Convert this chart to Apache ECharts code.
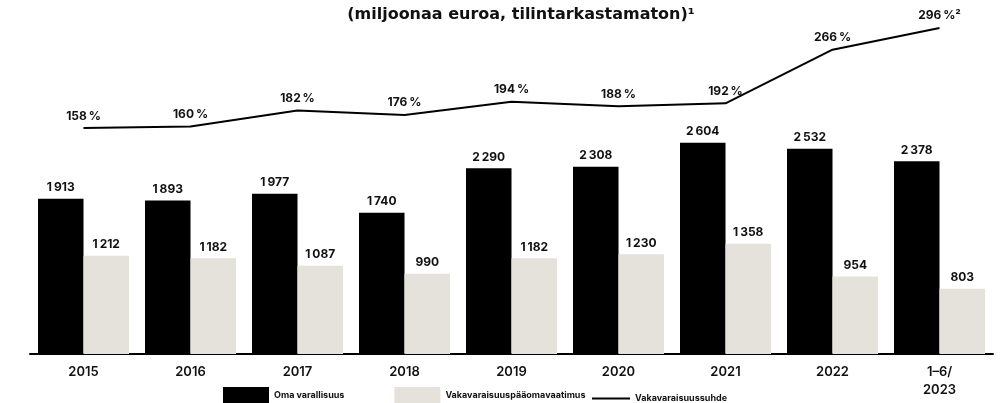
<!DOCTYPE html>
<html>
<head>
<meta charset="utf-8">
<script src="https://cdn.jsdelivr.net/npm/echarts@6/dist/echarts.min.js"></script>
<style>
  html, body { margin: 0; padding: 0; background: #fff; }
  #main { width: 1008px; height: 403px; }
</style>
</head>
<body>
<div id="main"></div>
<script>
// data
const years = ['2015', '2016', '2017', '2018', '2019', '2020', '2021', '2022', '1–6/\n2023']
const omaVarallisuus = [1913, 1893, 1977, 1740, 2290, 2308, 2604, 2532, 2378]
const vaatimus = [1212, 1182, 1087, 990, 1182, 1230, 1358, 954, 803]
const suhde = [158, 160, 182, 176, 194, 188, 192, 266, 296]

// 1913 -> "1 913"
function fmt(v) {
  return String(v).replace(/\B(?=(\d{3})+(?!\d))/g, '\u202f')
}

const chart = echarts.init(document.getElementById('main'))
const font = 'Inter, "Noto Sans", sans-serif'

const barLabel = {
  show: true,
  position: 'top',
  distance: 5,
  fontFamily: font,
  fontSize: 12,
  fontWeight: 700,
  color: '#111',
  formatter: p => fmt(p.value)
}
const legendText = { fontFamily: font, fontSize: 9, fontWeight: 700, color: '#111' }

chart.setOption({
  animation: false,
  title: {
    text: '(miljoonaa euroa, tilintarkastamaton)¹',
    left: 516,
    textAlign: 'center',
    top: 2,
    textStyle: { fontFamily: '"DejaVu Sans", sans-serif', fontSize: 16, fontWeight: 'bold', color: '#111' }
  },
  legend: [{
    data: ['Oma varallisuus', 'Vakavaraisuuspääomavaatimus'],
    left: 223,
    bottom: 0,
    padding: 0,
    itemWidth: 46,
    itemHeight: 16,
    itemGap: 50,
    icon: 'rect',
    textStyle: legendText
  }, {
    data: [{ name: 'Vakavaraisuussuhde', icon: 'path://M0,0H38V2H0Z' }],
    left: 592,
    bottom: 0,
    padding: 0,
    itemWidth: 38,
    itemHeight: 16,
    textStyle: legendText
  }],
  grid: { left: 30, right: 15, top: 20, bottom: 49 },
  xAxis: {
    type: 'category',
    data: years,
    axisTick: { show: false },
    axisLine: { lineStyle: { color: '#000', width: 2 } },
    axisLabel: {
      margin: 9,
      fontFamily: font,
      fontSize: 13,
      fontWeight: 600,
      color: '#111',
      lineHeight: 18
    }
  },
  yAxis: [{
    type: 'value',
    min: 0,
    max: 4118,
    show: false,
    splitLine: { show: false }
  }, {
    type: 'value',
    min: -153.8,
    max: 306.9,
    show: false,
    splitLine: { show: false }
  }],
  series: [{
    name: 'Oma varallisuus',
    type: 'bar',
    data: omaVarallisuus,
    barWidth: 45.5,
    barGap: 0,
    itemStyle: { color: '#000' },
    label: barLabel
  }, {
    name: 'Vakavaraisuuspääomavaatimus',
    type: 'bar',
    data: vaatimus,
    barWidth: 45.5,
    itemStyle: { color: '#e5e1db' },
    label: barLabel
  }, {
    name: 'Vakavaraisuussuhde',
    type: 'line',
    yAxisIndex: 1,
    data: suhde,
    symbol: 'circle',
    symbolSize: 0.1,
    showSymbol: true,
    lineStyle: { color: '#000', width: 2 },
    itemStyle: { color: '#000' },
    label: {
      show: true,
      position: 'top',
      distance: 6,
      fontFamily: font,
      fontSize: 12,
      fontWeight: 700,
      color: '#111',
      formatter: p => p.value + '\u202f%' + (p.dataIndex === suhde.length - 1 ? '²' : '')
    }
  }]
})
</script>
</body>
</html>
